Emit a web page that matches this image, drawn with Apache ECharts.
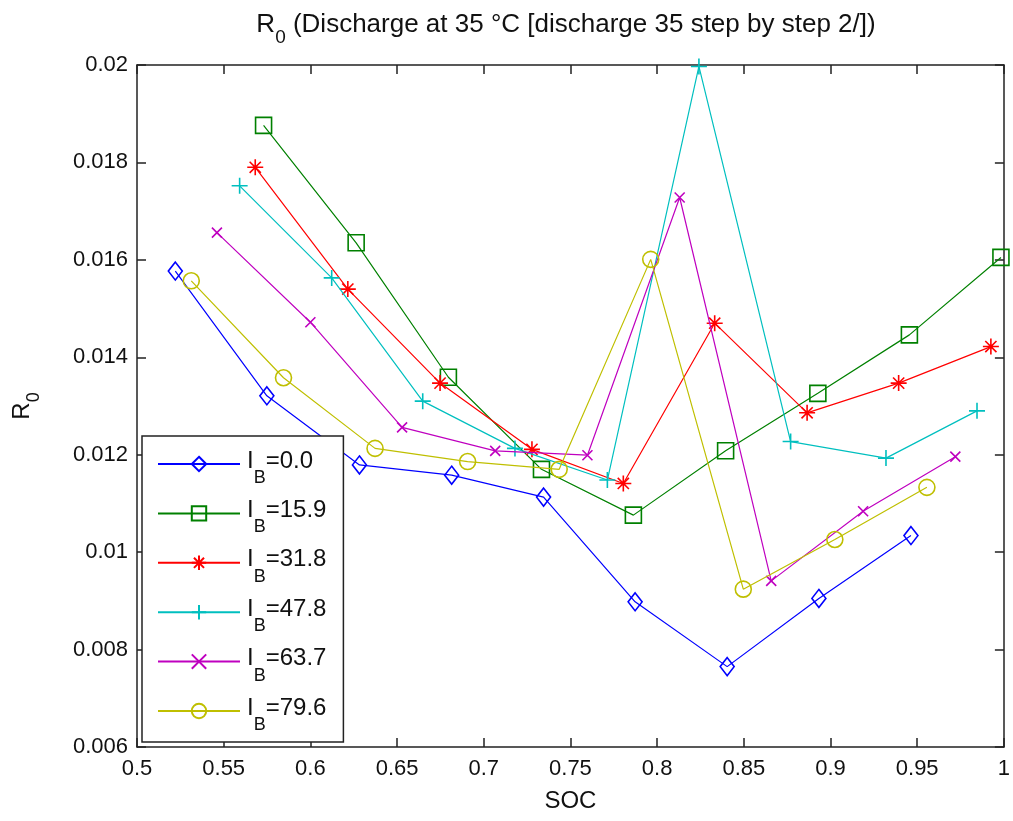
<!DOCTYPE html>
<html>
<head>
<meta charset="utf-8">
<script src="https://cdn.jsdelivr.net/npm/echarts@6/dist/echarts.min.js"></script>
<style>
html,body{margin:0;padding:0;background:#fff;}
#c{width:1013px;height:821px;}
</style>
</head>
<body>
<div id="c"></div>
<script>
// ---- data ----
var seriesNames = ['0.0', '15.9', '31.8', '47.8', '63.7', '79.6'];
var colors = ['#0000FF', '#008000', '#FF0000', '#00BFBF', '#BF00BF', '#BFBF00'];

var soc_0   = [0.5221, 0.5749, 0.6283, 0.6815, 0.7345, 0.7873, 0.8404, 0.8933, 0.9464];
var r0_0    = [0.01577, 0.01321, 0.01179, 0.01158, 0.01113, 0.00898, 0.00765, 0.00905, 0.01034];

var soc_159 = [0.5730, 0.6264, 0.6796, 0.7333, 0.7863, 0.8395, 0.8927, 0.9455, 0.9983];
var r0_159  = [0.01876, 0.01635, 0.01359, 0.01170, 0.01076, 0.01208, 0.01326, 0.01446, 0.01605];

var soc_318 = [0.5682, 0.6216, 0.6748, 0.7278, 0.7805, 0.8332, 0.8865, 0.9393, 0.9925];
var r0_318  = [0.01790, 0.01540, 0.01347, 0.01211, 0.01141, 0.01470, 0.01286, 0.01347, 0.01422];

var soc_478 = [0.5592, 0.6123, 0.6648, 0.7180, 0.7713, 0.8241, 0.8770, 0.9320, 0.9845];
var r0_478  = [0.01752, 0.01563, 0.01310, 0.01213, 0.01148, 0.01997, 0.01227, 0.01193, 0.01290];

var soc_637 = [0.5461, 0.6000, 0.6529, 0.7066, 0.7598, 0.8130, 0.8658, 0.9188, 0.9720];
var r0_637  = [0.01656, 0.01472, 0.01256, 0.01208, 0.01199, 0.01728, 0.00941, 0.01084, 0.01196];

var soc_796 = [0.5313, 0.5845, 0.6373, 0.6907, 0.7435, 0.7963, 0.8497, 0.9025, 0.9556];
var r0_796  = [0.01557, 0.01358, 0.01213, 0.01186, 0.01170, 0.01601, 0.00924, 0.01026, 0.01133];

var xTicks = {min: 0.5, max: 1.0, interval: 0.05};
var yTicks = {min: 0.006, max: 0.02, interval: 0.002};

var socs = [soc_0, soc_159, soc_318, soc_478, soc_637, soc_796];
var r0s  = [r0_0, r0_159, r0_318, r0_478, r0_637, r0_796];

// ---- styling ----
var FONT = "'Liberation Sans', Arial, Helvetica, sans-serif";
var TXT = '#111';
var symbols = [
  'path://M0,-1L0.75,0L0,1L-0.75,0Z',
  'path://M-1,-1L1,-1L1,1L-1,1Z',
  'path://M0,-1L0,1M-1,0L1,0M-0.7,-0.7L0.7,0.7M-0.7,0.7L0.7,-0.7',
  'path://M0,-1L0,1M-1,0L1,0',
  'path://M-1,-1L1,1M-1,1L1,-1',
  'path://M1,0A1,1,0,1,1,-1,0A1,1,0,1,1,1,0Z'
];
var symSizes = [[14, 18], 16, 16, 16, 10, 16];

function zip(a, b) { return a.map(function (v, i) { return [v, b[i]]; }); }

var series = seriesNames.map(function (n, i) {
  return {
    name: n,
    type: 'line',
    data: zip(socs[i], r0s[i]),
    symbol: symbols[i],
    symbolSize: symSizes[i],
    showAllSymbol: true,
    lineStyle: {color: colors[i], width: 1.2},
    itemStyle: {color: 'rgba(0,0,0,0)', borderColor: colors[i], borderWidth: 1.6},
    emphasis: {disabled: true},
    animation: false,
    z: 2 + i
  };
});

var axisLine = {show: true, onZero: false, lineStyle: {color: '#222', width: 1.5}};
var tickIn = {show: true, inside: true, length: 9, lineStyle: {color: '#222', width: 1.5}};

function subRich(big, small, pad, lh) {
  return {
    a: {fontFamily: FONT, fontSize: big, fontWeight: 'normal', color: TXT, lineHeight: lh, verticalAlign: 'top'},
    s: {fontFamily: FONT, fontSize: small, fontWeight: 'normal', color: TXT, lineHeight: small, verticalAlign: 'top', padding: [pad, 0, 0, 0]}
  };
}

var option = {
  backgroundColor: '#fff',
  animation: false,
  title: {
    text: '{a|R}{s|0}{a| (Discharge at 35 °C [discharge 35 step by step 2/])}',
    left: 561, textAlign: 'center', top: 7,
    textStyle: {fontWeight: 'normal', rich: subRich(26, 19, 16, 29)}
  },
  grid: {left: 137, top: 65, width: 868, height: 682, containLabel: false, show: false},
  legend: {
    orient: 'vertical',
    left: 142, top: 436,
    data: seriesNames,
    backgroundColor: '#fff',
    borderColor: '#222', borderWidth: 1.5, borderRadius: 0,
    padding: [13, 17, 8, 15],
    itemWidth: 82, itemHeight: 18, itemGap: 11.4,
    selectedMode: false,
    formatter: function (n) { return '{a|I}{s|B}{a|=' + n + '}'; },
    textStyle: {
      padding: [0, 0, 0, 2],
      rich: subRich(24, 18, 20, 30)
    }
  },
  xAxis: [{
    type: 'value', position: 'bottom',
    min: xTicks.min, max: xTicks.max, interval: xTicks.interval,
    name: 'SOC', nameLocation: 'middle', nameGap: 42,
    nameTextStyle: {fontFamily: FONT, fontSize: 24, color: TXT},
    axisLine: axisLine, axisTick: tickIn,
    axisLabel: {margin: 11, color: TXT, fontFamily: FONT, fontSize: 22, formatter: function (v) { return String(+v.toFixed(2)); }},
    splitLine: {show: false}
  }, {
    type: 'value', position: 'top',
    min: xTicks.min, max: xTicks.max, interval: xTicks.interval,
    axisLine: axisLine, axisTick: tickIn, axisLabel: {show: false}, splitLine: {show: false}
  }],
  yAxis: [{
    type: 'value', position: 'left',
    min: yTicks.min, max: yTicks.max, interval: yTicks.interval,
    name: '{a|R}{s|0}', nameLocation: 'middle', nameGap: 100, nameRotate: 90,
    nameTextStyle: {rich: subRich(24, 18, 15, 27)},
    axisLine: axisLine, axisTick: tickIn,
    axisLabel: {margin: 9, color: TXT, fontFamily: FONT, fontSize: 22, formatter: function (v) { return String(+v.toFixed(3)); }},
    splitLine: {show: false}
  }, {
    type: 'value', position: 'right',
    min: yTicks.min, max: yTicks.max, interval: yTicks.interval,
    axisLine: axisLine, axisTick: tickIn, axisLabel: {show: false}, splitLine: {show: false}
  }],
  series: series
};

var chart = echarts.init(document.getElementById('c'), null, {renderer: 'canvas'});
chart.setOption(option);
</script>
</body>
</html>
